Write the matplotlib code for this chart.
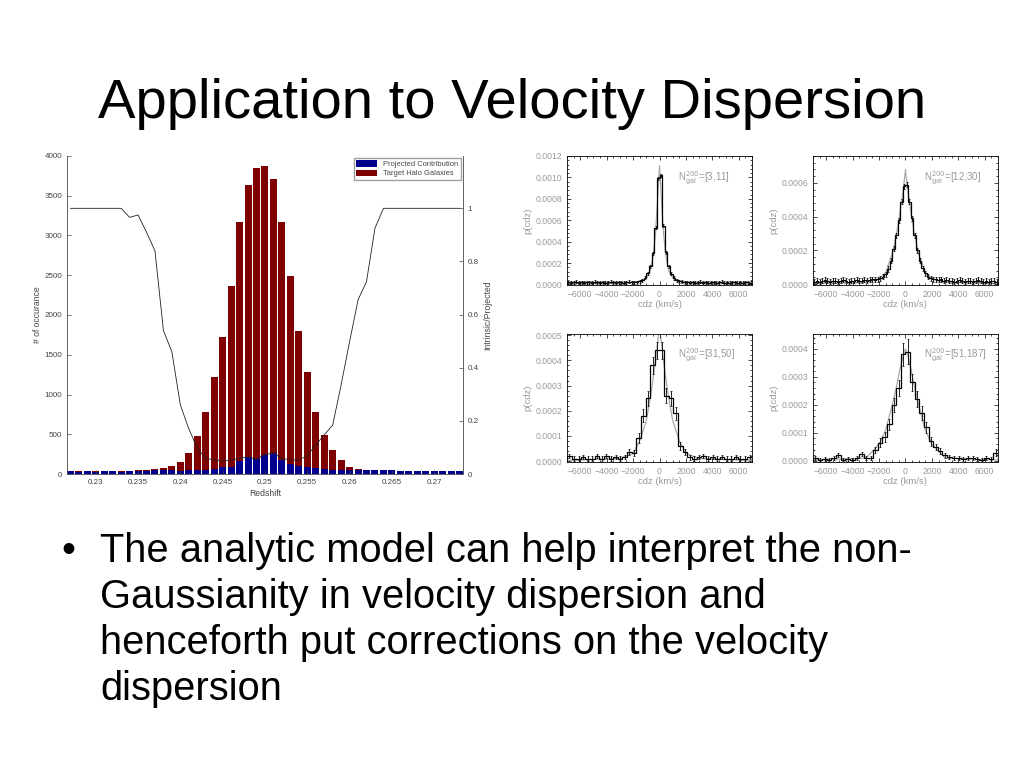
import numpy as np
import matplotlib.pyplot as plt
from matplotlib.ticker import AutoMinorLocator, FormatStrFormatter

plt.rcParams['font.family'] = ['Liberation Sans', 'DejaVu Sans']

# ---- left chart: redshift histogram ----
redshift = np.round(np.arange(0.227, 0.2735, 0.001), 3)
halo_counts = [40, 35, 38, 35, 38, 40, 35, 40, 45, 50, 62, 72, 100, 155, 262, 478,
               775, 1216, 1727, 2365, 3175, 3635, 3845, 3878, 3710, 3175, 2495, 1800,
               1280, 775, 490, 296, 175, 85, 65, 52, 55, 45, 45, 42, 40, 42, 38, 40,
               40, 38, 36]
proj_counts = [40, 30, 33, 30, 33, 33, 28, 35, 40, 42, 45, 48, 45, 42, 45, 48,
               50, 60, 85, 90, 165, 210, 185, 245, 258, 175, 125, 95,
               85, 72, 58, 50, 48, 52, 55, 50, 55, 45, 45, 42, 40, 42, 38, 40,
               40, 38, 36]
ratio = [1.0, 1.0, 1.0, 1.0, 1.0, 1.0, 1.0, 0.966, 0.975, 0.91, 0.84, 0.54, 0.46,
         0.26, 0.17, 0.097, 0.059, 0.053, 0.05, 0.053, 0.059, 0.064, 0.055, 0.074,
         0.078, 0.059, 0.053, 0.053, 0.069, 0.109, 0.147, 0.184, 0.335, 0.498,
         0.655, 0.724, 0.925, 1.0, 1.0, 1.0, 1.0, 1.0, 1.0, 1.0, 1.0, 1.0, 1.0]
x_ticks = [0.23, 0.235, 0.24, 0.245, 0.25, 0.255, 0.26, 0.265, 0.27]
x_tick_labels = ['0.23', '0.235', '0.24', '0.245', '0.25', '0.255', '0.26', '0.265', '0.27']

# ---- right panels: p(cdz) histograms, values in units of 1e-4 ----
edges_fine = np.arange(-7000, 7001, 200)
edges_wide = np.arange(-7000, 7001, 350)

p1_vals = [0.2, 0.15, 0.2, 0.25, 0.15, 0.2, 0.15, 0.2, 0.2, 0.15, 0.25, 0.2, 0.15,
           0.2, 0.15, 0.2, 0.25, 0.2, 0.15, 0.2, 0.2, 0.15, 0.2, 0.25, 0.2,
           0.2, 0.22, 0.28, 0.4, 0.65, 1.05, 1.7, 2.9, 5.3, 9.9,
           10.2, 5.5, 3.0, 1.7, 1.0, 0.6, 0.4, 0.3, 0.25, 0.2,
           0.2, 0.15, 0.2, 0.15, 0.2, 0.25, 0.15, 0.2, 0.15, 0.2, 0.2, 0.15, 0.2,
           0.25, 0.15, 0.2, 0.15, 0.2, 0.2, 0.15, 0.2, 0.15, 0.2, 0.2, 0.15]
p2_vals = [0.15, 0.2, 0.15, 0.2, 0.25, 0.2, 0.15, 0.2, 0.2, 0.15, 0.2, 0.25, 0.2,
           0.15, 0.2, 0.2, 0.25, 0.2, 0.2, 0.25, 0.2, 0.25, 0.3, 0.25, 0.3,
           0.35, 0.45, 0.6, 0.9, 1.4, 2.1, 2.9, 3.8, 4.9, 5.8,
           5.9, 4.9, 3.9, 2.9, 2.0, 1.4, 0.95, 0.65, 0.45, 0.35,
           0.3, 0.3, 0.25, 0.3, 0.2, 0.25, 0.2, 0.2, 0.15, 0.2, 0.25, 0.2, 0.15,
           0.2, 0.2, 0.15, 0.2, 0.25, 0.2, 0.15, 0.2, 0.15, 0.2, 0.2, 0.15]
p3_vals = [0.2, 0.1, 0.1, 0.15, 0.1, 0.1, 0.2, 0.1, 0.2, 0.1, 0.15, 0.1, 0.15,
           0.35, 0.3, 0.9, 1.8, 2.5, 3.8, 4.4, 4.4, 2.6, 2.5, 1.9, 0.6, 0.35,
           0.15, 0.1, 0.15, 0.2, 0.1, 0.15, 0.1, 0.15, 0.1, 0.1, 0.15, 0.1, 0.1, 0.15]
p4_vals = [0.1, 0.05, 0.08, 0.05, 0.1, 0.2, 0.05, 0.08, 0.05, 0.1, 0.25, 0.1, 0.12,
           0.4, 0.65, 0.85, 1.3, 2.0, 2.6, 3.8, 3.9, 2.8, 2.2, 1.7, 1.2, 0.7,
           0.5, 0.35, 0.2, 0.15, 0.1, 0.1, 0.08, 0.12, 0.1, 0.08, 0.05, 0.1, 0.08, 0.3]
p1_err = 0.15
p2_err = 0.15
p3_err = [0.08] * 13 + [0.12, 0.12, 0.2, 0.25, 0.3, 0.35, 0.35, 0.35, 0.3, 0.3,
                        0.25, 0.15, 0.12, 0.1] + [0.08] * 13
p4_err = [0.07] * 13 + [0.1, 0.15, 0.18, 0.2, 0.25, 0.3, 0.4, 0.45, 0.32, 0.28,
                        0.25, 0.2, 0.15, 0.12, 0.1, 0.08] + [0.07] * 10 + [0.12]

model_x = [-7000, -3000, -2000, -1500, -1000, -700, -500, -300, -150, 0,
           150, 300, 500, 700, 1000, 1500, 2000, 3000, 7000]
m1_half = [0.05, 0.12, 0.2, 0.3, 0.6, 1.3, 2.5, 4.8, 7.8, 11.1]
m2_half = [0.03, 0.1, 0.3, 0.7, 1.8, 2.9, 3.8, 4.9, 5.7, 6.8]
m3_half = [0.02, 0.1, 0.3, 0.8, 1.6, 2.5, 3.2, 4.0, 4.7, 5.3]
m4_half = [0.03, 0.1, 0.6, 1.1, 2.0, 2.6, 3.1, 3.5, 3.8, 4.0]

panel_labels = ['[3,11]', '[12,30]', '[31,50]', '[51,187]']

fig = plt.figure(figsize=(10.24, 7.68), dpi=100)

fig.text(0.5, 0.8464, 'Application to Velocity Dispersion', ha='center',
         va='baseline', fontsize=40.5, color='black')

bullet_lines = ['The analytic model can help interpret the non-',
                'Gaussianity in velocity dispersion and',
                'henceforth put corrections on the velocity',
                'dispersion']
fig.text(0.060, 1 - 562 / 768, '\u2022', fontsize=28.5, va='baseline')
for i, line in enumerate(bullet_lines):
    fig.text(0.0977, 1 - (562 + 46 * i) / 768, line, fontsize=28.7, va='baseline')

# main chart
ax = fig.add_axes([0.0654, 0.3828, 0.3867, 0.4141])
ax.bar(redshift, halo_counts, width=0.00082, color='#7f0000', label='Target Halo Galaxies')
ax.bar(redshift, proj_counts, width=0.00082, color='#00008f', label='Projected Contribution')
ax.set_xlim(0.2266, 0.2734)
ax.set_ylim(0, 4000)
ax.set_yticks(range(0, 4001, 500))
ax.set_xticks(x_ticks)
ax.set_xticklabels(x_tick_labels)
ax.tick_params(direction='in', labelsize=5.8, colors='#444444', length=3, width=0.5)
ax.spines['top'].set_visible(False)
for s in ax.spines.values():
    s.set_linewidth(0.5)
    s.set_color('#555555')
ax.set_xlabel('Redshift', fontsize=6.2, color='#444444', labelpad=2)
ax.set_ylabel('# of occurance', fontsize=6.2, color='#444444', labelpad=2)
h, l = ax.get_legend_handles_labels()
ax.legend(h[::-1], l[::-1], loc='upper right', fontsize=5.4, frameon=True,
          fancybox=False, edgecolor='#888888', handlelength=2.8, handleheight=1.0,
          borderpad=0.3, labelspacing=0.15, borderaxespad=0.3, labelcolor='#444444')

ax2 = ax.twinx()
ax2.plot(redshift, ratio, color='#222222', lw=0.6)
ax2.set_ylim(0, 1.197)
ax2.set_yticks([0, 0.2, 0.4, 0.6, 0.8, 1])
ax2.set_yticklabels(['0', '0.2', '0.4', '0.6', '0.8', '1'])
ax2.tick_params(direction='in', labelsize=5.8, colors='#444444', length=3, width=0.5)
ax2.spines['top'].set_visible(False)
for s in ax2.spines.values():
    s.set_linewidth(0.5)
    s.set_color('#555555')
ax2.set_ylabel('Intrinsic/Projected', fontsize=6.2, color='#444444', labelpad=3)

# four small panels
panel_rects = [[0.5537, 0.6289, 0.1807, 0.1680],
               [0.7939, 0.6289, 0.1807, 0.1680],
               [0.5537, 0.3984, 0.1807, 0.1667],
               [0.7939, 0.3984, 0.1807, 0.1667]]
panel_vals = [p1_vals, p2_vals, p3_vals, p4_vals]
panel_errs = [p1_err, p2_err, p3_err, p4_err]
panel_edges = [edges_fine, edges_fine, edges_wide, edges_wide]
model_halves = [m1_half, m2_half, m3_half, m4_half]
panel_ylims = [(-0.000005, 0.0012), (-0.000005, 0.00076),
               (-0.000004, 0.000505), (-0.000004, 0.000453)]
panel_yticks = [np.arange(0, 0.00121, 0.0002), np.arange(0, 0.00061, 0.0002),
                np.arange(0, 0.000501, 0.0001), np.arange(0, 0.000401, 0.0001)]

for rect, vals, err, edges, half, ylim, yt, lab in zip(panel_rects, panel_vals,
                                                        panel_errs, panel_edges,
                                                        model_halves, panel_ylims,
                                                        panel_yticks, panel_labels):
    a = fig.add_axes(rect)
    v = np.array(vals) * 1e-4
    e = np.array(err) * 1e-4 if np.ndim(err) else err * 1e-4
    centers = (edges[:-1] + edges[1:]) / 2
    my = np.array(half + half[-2::-1]) * 1e-4
    a.plot(model_x, my, color='#aaaaaa', lw=0.9, zorder=1)
    a.stairs(v, edges, color='black', lw=0.9, zorder=2)
    a.errorbar(centers, v, yerr=e, fmt='none', ecolor='black', elinewidth=0.6,
               capsize=1.0, capthick=0.5, zorder=3)
    a.set_xlim(-7000, 7000)
    a.set_ylim(*ylim)
    a.set_xticks([-6000, -4000, -2000, 0, 2000, 4000, 6000])
    a.set_yticks(yt)
    a.yaxis.set_major_formatter(FormatStrFormatter('%.4f'))
    a.xaxis.set_minor_locator(AutoMinorLocator(4))
    a.yaxis.set_minor_locator(AutoMinorLocator(5))
    a.tick_params(which='both', direction='in', top=True, right=True,
                  labelsize=6.2, labelcolor='#999999', width=0.5)
    a.tick_params(which='major', length=3)
    a.tick_params(which='minor', length=1.5)
    for s in a.spines.values():
        s.set_linewidth(0.6)
    a.set_xlabel('cdz (km/s)', fontsize=6.8, color='#999999', labelpad=1)
    a.set_ylabel('p(cdz)', fontsize=6.8, color='#999999', labelpad=2)
    a.text(0.6, 0.83, r'N$_{\rm gal}^{200}$=' + lab, transform=a.transAxes,
           fontsize=7, color='#999999', ha='left', va='center')

fig.savefig('out.png', dpi=100)
